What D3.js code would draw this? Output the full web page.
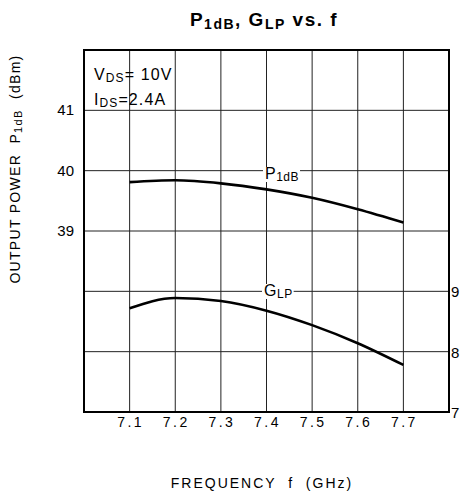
<!DOCTYPE html>
<html>
<head>
<meta charset="utf-8">
<script src="https://cdn.jsdelivr.net/npm/d3@7"></script>
<style>
  body { margin: 0; background: #fff; }
  svg { display: block; font-family: "Liberation Sans", Arial, sans-serif; }
  text { white-space: pre; }
</style>
</head>
<body>
<div id="chart"></div>
<script>
'use strict';

// data
let freqs = [7.1, 7.2, 7.3, 7.4, 7.5, 7.6, 7.7];
let p1dbValues = [39.81, 39.84, 39.79, 39.69, 39.55, 39.36, 39.14];
let glpValues = [8.72, 8.89, 8.84, 8.68, 8.44, 8.14, 7.78];
let xTickLabels = [7.1, 7.2, 7.3, 7.4, 7.5, 7.6, 7.7];
let leftTickLabels = [39, 40, 41];
let rightTickLabels = [7, 8, 9];

draw();

function draw() {
    let width = 462, height = 496;
    let m = { left: 84, right: 449, top: 50, bottom: 412 };

    let svg = d3.select('#chart')
        .append('svg')
        .attr('width', width)
        .attr('height', height);

    let x = d3.scaleLinear().domain([7.0, 7.8]).range([m.left, m.right]);
    let yLeft = d3.scaleLinear().domain([36, 42]).range([m.bottom, m.top]);
    let yRight = d3.scaleLinear().domain([7, 13]).range([m.bottom, m.top]);

    // grid
    let grid = svg.append('g').attr('stroke', '#222').attr('stroke-width', 1);
    grid.selectAll('line.v')
        .data(xTickLabels)
        .enter()
        .append('line')
        .attr('x1', d => x(d)).attr('x2', d => x(d))
        .attr('y1', m.top).attr('y2', m.bottom);
    grid.selectAll('line.h')
        .data(d3.range(37, 42))
        .enter()
        .append('line')
        .attr('x1', m.left).attr('x2', m.right)
        .attr('y1', d => yLeft(d)).attr('y2', d => yLeft(d));

    // frame
    svg.append('rect')
        .attr('x', m.left).attr('y', m.top)
        .attr('width', m.right - m.left).attr('height', m.bottom - m.top)
        .attr('fill', 'none').attr('stroke', '#000').attr('stroke-width', 2);

    // curves
    let line = d3.line().curve(d3.curveMonotoneX);
    let p1dbPts = freqs.map((f, i) => [x(f), yLeft(p1dbValues[i])]);
    let glpPts = freqs.map((f, i) => [x(f), yRight(glpValues[i])]);
    svg.selectAll('path.curve')
        .data([p1dbPts, glpPts])
        .enter()
        .append('path')
        .attr('d', line)
        .attr('fill', 'none')
        .attr('stroke', '#000')
        .attr('stroke-width', 2.6);

    // x tick labels
    svg.append('g')
        .selectAll('text')
        .data(xTickLabels)
        .enter()
        .append('text')
        .attr('x', d => x(d) + 1)
        .attr('y', 427)
        .attr('text-anchor', 'middle')
        .attr('font-size', 14)
        .attr('letter-spacing', 2.5)
        .text(d => d.toFixed(1));

    // left tick labels
    svg.append('g')
        .selectAll('text')
        .data(leftTickLabels)
        .enter()
        .append('text')
        .attr('x', 74)
        .attr('y', d => yLeft(d) + 5)
        .attr('text-anchor', 'end')
        .attr('font-size', 15)
        .text(d => d);

    // right tick labels
    svg.append('g')
        .selectAll('text')
        .data(rightTickLabels)
        .enter()
        .append('text')
        .attr('x', 451)
        .attr('y', d => yRight(d) + 6)
        .attr('font-size', 15)
        .text(d => d);

    // curve labels with white background
    function subLabel(px, py, main, sub) {
        let g = svg.append('g');
        let bg = g.append('rect').attr('fill', '#fff');
        let t = g.append('text')
            .attr('x', px).attr('y', py)
            .attr('font-size', 16)
            .attr('letter-spacing', 0.5);
        t.append('tspan').text(main);
        t.append('tspan').attr('font-size', 12).attr('dy', 2).text(sub);
        let bb = t.node().getBBox();
        bg.attr('x', bb.x - 2).attr('y', bb.y + 2)
            .attr('width', bb.width + 3).attr('height', bb.height - 4);
        return g;
    }
    subLabel(265, 179, 'P', '1dB');
    subLabel(264, 296, 'G', 'LP');

    // conditions
    let cond = svg.append('g').attr('font-size', 16).attr('letter-spacing', 1.1);
    let c1 = cond.append('text').attr('x', 94).attr('y', 80);
    c1.append('tspan').text('V');
    c1.append('tspan').attr('font-size', 12).attr('dy', 2).text('DS');
    c1.append('tspan').attr('dy', -2).text('= 10V');
    let c2 = cond.append('text').attr('x', 94).attr('y', 105);
    c2.append('tspan').text('I');
    c2.append('tspan').attr('font-size', 12).attr('dy', 2).text('DS');
    c2.append('tspan').attr('dy', -2).text('=2.4A');

    // title
    let title = svg.append('text')
        .attr('x', 264).attr('y', 26)
        .attr('text-anchor', 'middle')
        .attr('font-size', 19)
        .attr('font-weight', 'bold')
        .attr('letter-spacing', 1.5);
    title.append('tspan').text('P');
    title.append('tspan').attr('font-size', 14).attr('dy', 3).text('1dB');
    title.append('tspan').attr('dy', -3).text(', G');
    title.append('tspan').attr('font-size', 14).attr('dy', 3).text('LP');
    title.append('tspan').attr('dy', -3).text(' vs. f');

    // axis titles
    let yTitle = svg.append('text')
        .attr('transform', 'translate(20,169) rotate(-90)')
        .attr('text-anchor', 'middle')
        .attr('font-size', 14)
        .attr('letter-spacing', 1.3);
    yTitle.append('tspan').text('OUTPUT POWER  P');
    yTitle.append('tspan').attr('font-size', 11).attr('dy', 2).text('1dB');
    yTitle.append('tspan').attr('dy', -2).text('  (dBm)');

    svg.append('text')
        .attr('x', 262).attr('y', 488)
        .attr('text-anchor', 'middle')
        .attr('font-size', 14)
        .attr('letter-spacing', 2)
        .text('FREQUENCY  f  (GHz)');
}
</script>
</body>
</html>
